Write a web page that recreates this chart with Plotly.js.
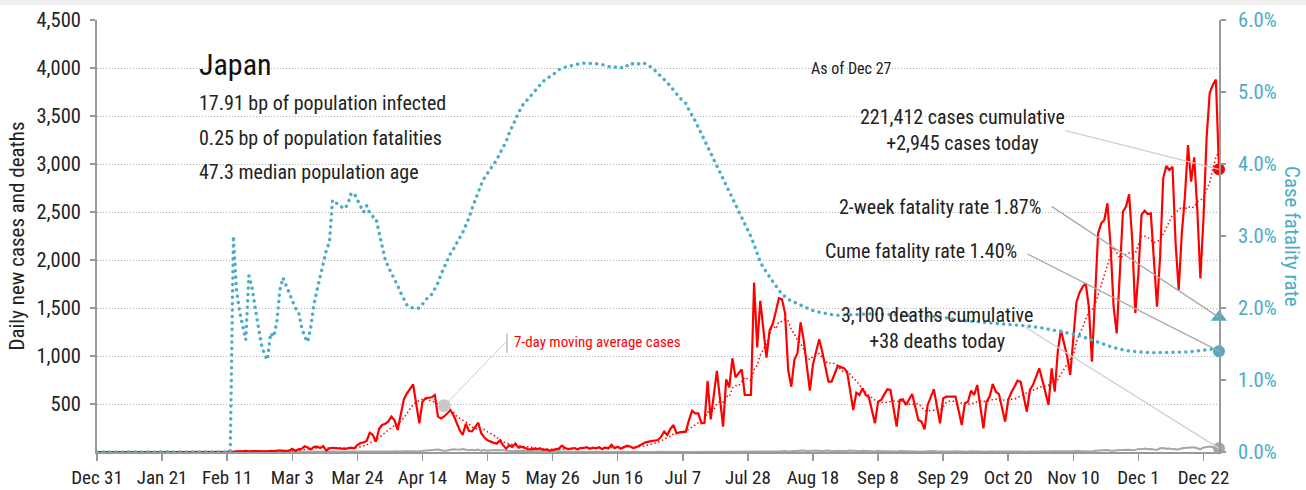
<!DOCTYPE html>
<html>
<head>
<meta charset="utf-8">
<script src="https://cdn.plot.ly/plotly-3.0.1.min.js"></script>
<style>
  html, body { margin: 0; padding: 0; background: #f0f0f0; }
  #chart { position: absolute; left: 0; top: 5px; width: 1306px; height: 485px; background: #fff; }
</style>
</head>
<body>
<div id="chart"></div>
<script>
// ---------------- DATA ----------------
const startDate = '2019-12-31';            // first day of the series (day 0)

// Daily new cases, one value per day from Dec 31, 2019 to Dec 27, 2020
const dailyCases = [
  0,0,0,0,0,0,0,0,0,0,0,0,0,0,0,0,
  1,0,0,0,0,0,1,0,0,1,0,1,1,4,1,2,
  0,0,2,0,0,1,0,0,0,3,0,0,1,8,5,6,12,4,9,10,7,12,8,6,13,9,16,18,12,
  15,14,33,12,27,33,59,47,26,54,55,41,62,15,39,44,41,42,36,33,43,45,39,
  73,94,100,115,201,177,107,240,
  281,295,318,368,330,229,399,549,611,653,705,500,299,524,559,565,570,594,368,350,370,400,437,385,300,229,177,295,219,215,
  260,305,193,150,122,106,95,88,122,71,35,71,52,88,45,55,40,30,28,35,30,
  38,21,26,14,21,33,35,66,42,31,35,41,28,41,42,50,33,45,38,50,29,48,36,76,40,55,33,52,66,58,40,50,
  66,85,101,108,115,118,125,160,212,177,240,281,194,
  205,212,212,333,430,403,403,299,305,740,340,590,844,554,264,757,674,976,778,820,861,594,594,594,
  1764,1090,1576,1280,983,1264,1333,1460,1601,1590,1445,854,680,960,1028,1351,1167,903,639,913,1040,1174,1045,890,
  733,733,815,896,884,872,837,640,437,618,594,663,594,576,440,299,524,
  542,600,653,646,455,264,542,549,490,550,604,470,333,316,236,490,570,653,476,299,559,576,576,576,576,430,281,
  507,524,639,594,698,472,247,524,576,708,628,604,460,316,542,622,680,743,732,570,420,646,700,785,872,750,620,490,872,628,
  1050,1271,1132,1000,802,1201,1560,1660,1720,1757,1514,941,1583,2278,2382,2417,2591,2156,1514,1236,1861,2503,2556,2684,
  2208,1445,1861,2469,2514,2479,2486,2000,1514,2035,2851,2979,2938,2972,2174,1688,2278,2660,3198,2816,3070,2521,1809,
  2437,3271,3740,3823,3881,2945
];

// Daily new deaths, same days
const dailyDeaths = [
  0,0,0,0,0,0,0,0,0,0,0,0,0,0,0,0,0,0,0,0,0,0,0,0,0,0,0,0,0,0,0,0,0,0,0,0,0,0,0,0,0,0,0,0,
  1,0,0,0,0,0,0,1,0,0,0,0,1,0,1,0,1,
  1,0,1,0,0,1,0,1,1,2,1,1,0,2,1,1,1,2,0,1,2,1,2,0,1,2,3,2,4,5,3,
  3,5,2,4,8,3,5,7,9,10,7,6,9,13,11,15,14,17,26,18,12,16,22,29,25,23,31,28,19,24,
  18,26,13,20,14,17,21,19,22,17,13,10,9,14,12,15,8,11,9,10,6,14,7,9,5,12,8,9,4,6,3,
  3,2,4,1,2,1,3,2,1,0,1,2,1,0,1,3,1,1,0,2,0,1,0,1,2,1,0,1,2,1,
  0,1,0,2,1,1,0,1,0,1,1,2,1,0,1,0,2,1,0,0,1,0,2,0,3,2,1,3,2,4,3,
  5,2,6,4,3,6,5,8,10,4,6,7,13,12,16,10,9,14,15,11,8,14,16,9,13,14,10,8,11,15,12,
  10,9,12,8,11,7,5,13,10,8,6,9,7,4,11,9,7,5,10,8,5,3,6,9,7,10,5,4,8,6,
  7,5,9,6,4,5,3,8,6,4,7,5,3,6,9,4,5,7,2,6,5,4,8,6,3,7,4,5,9,6,8,
  5,4,7,6,5,8,6,4,9,8,11,10,13,12,9,6,14,15,18,17,20,13,12,19,22,25,21,24,18,20,
  32,29,35,28,31,30,22,38,41,33,36,30,29,27,40,45,43,48,49,42,28,47,51,56,49,44,38
];

// Case fatality rate (%), read at these day offsets from startDate
const cfrDay = [0,43,44,45,46,47,48,49,50,51,52,53,54,55,56,57,58,59,60,61,62,63,64,65,66,67,68,69,70,71,72,73,74,75,76,77,78,79,80,81,82,83,84,85,86,87,88,89,90,91,92,93,94,95,96,97,98,99,100,101,102,103,104,105,106,107,108,109,110,111,112,113,114,115,116,117,118,119,120,121,122,123,124,125,126,127,128,129,130,131,132,133,134,135,136,137,138,139,140,141,142,143,144,145,146,147,148,149,150,151,152,154,156,158,160,162,164,166,168,170,172,174,176,178,180,181,182,183,184,185,186,187,188,189,190,191,192,193,194,195,196,197,198,199,200,201,202,203,204,205,206,207,208,209,210,211,212,213,214,215,216,217,218,219,220,221,222,223,224,225,226,227,228,229,230,232,234,236,238,240,245,250,255,260,265,272,278,284,289,297,300,304,308,312,316,320,324,328,332,336,341,347,352,356,360,362];
const cfrPct = [0,0,3.00,2.25,1.95,1.74,1.56,2.45,2.29,2.01,1.75,1.50,1.36,1.28,1.65,1.60,1.80,2.25,2.42,2.32,2.21,2.10,2.00,1.95,1.74,1.60,1.53,1.74,2.05,2.25,2.45,2.60,2.80,2.92,3.50,3.46,3.44,3.40,3.38,3.45,3.59,3.59,3.50,3.43,3.33,3.42,3.32,3.27,3.25,3.05,2.85,2.67,2.57,2.49,2.40,2.31,2.21,2.12,2.04,2.01,2.00,1.99,2.00,2.06,2.12,2.16,2.19,2.26,2.35,2.47,2.57,2.67,2.75,2.82,2.89,2.97,3.05,3.15,3.25,3.38,3.50,3.62,3.72,3.81,3.87,3.93,3.99,4.06,4.15,4.22,4.31,4.43,4.52,4.62,4.72,4.80,4.85,4.90,4.95,5.01,5.06,5.10,5.15,5.18,5.21,5.23,5.27,5.31,5.33,5.35,5.36,5.37,5.40,5.40,5.40,5.39,5.37,5.34,5.35,5.33,5.40,5.38,5.41,5.37,5.30,5.26,5.22,5.18,5.13,5.08,5.02,4.97,4.92,4.88,4.84,4.75,4.68,4.60,4.51,4.42,4.34,4.25,4.17,4.08,3.98,3.90,3.81,3.71,3.62,3.53,3.45,3.36,3.26,3.17,3.08,2.99,2.88,2.76,2.64,2.56,2.49,2.43,2.37,2.31,2.24,2.19,2.16,2.12,2.10,2.08,2.06,2.03,2.01,1.99,1.98,1.95,1.93,1.92,1.90,1.90,1.91,1.92,1.91,1.90,1.89,1.88,1.83,1.81,1.79,1.76,1.75,1.73,1.70,1.67,1.63,1.57,1.51,1.45,1.41,1.39,1.38,1.38,1.39,1.41,1.43,1.41];

const twoWeekRate = 1.87;     // %
const cumeRate = 1.40;        // %
const maLabelDay = 112;       // day whose moving average carries the label dot

const yTicks = [500,1000,1500,2000,2500,3000,3500,4000,4500];
const y2Ticks = [0,1,2,3,4,5,6];
const y2TickText = ['0.0%','1.0%','2.0%','3.0%','4.0%','5.0%','6.0%'];

// ---------------- BUILD ----------------
const DAY = 86400000;
const t0 = Date.parse(startDate + 'T00:00:00Z');
const dayToDate = d => new Date(t0 + d * DAY).toISOString().slice(0, 10);
const dates = dailyCases.map((_, i) => dayToDate(i));
const lastDay = dailyCases.length - 1;
const lastDate = dates[lastDay];

// 7-day trailing moving average of cases
const maCases = dailyCases.map((v, i) => {
  if (i < 6) return null;
  let s = 0; for (let k = i - 6; k <= i; k++) s += dailyCases[k];
  return s / 7;
});

const TEAL = '#4bacc6';
const RED = '#ff0000';
const FONT = "'Liberation Sans Narrow', 'Arial Narrow', 'Roboto Condensed', 'DejaVu Sans Condensed', sans-serif";
const TXT = '#222222';

const traces = [
  { x: cfrDay.map(dayToDate), y: cfrPct, yaxis: 'y2', type: 'scatter', mode: 'lines',
    line: { color: TEAL, width: 3.4, dash: '3px,3.6px' }, hoverinfo: 'skip' },
  { x: dates, y: dailyDeaths, type: 'scatter', mode: 'lines',
    line: { color: '#a6a6a6', width: 2 }, hoverinfo: 'skip' },
  { x: dates, y: maCases, type: 'scatter', mode: 'lines',
    line: { color: RED, width: 1.5, dash: '1.5px,2.5px' }, hoverinfo: 'skip' },
  { x: dates, y: dailyCases, type: 'scatter', mode: 'lines',
    line: { color: RED, width: 2.2 }, hoverinfo: 'skip' },
  // label dot on the moving average
  { x: [dates[maLabelDay]], y: [maCases[maLabelDay]], type: 'scatter', mode: 'markers',
    marker: { color: '#c8c8c8', size: 13 }, cliponaxis: false },
  // today markers
  { x: [lastDate], y: [dailyDeaths[lastDay]], type: 'scatter', mode: 'markers',
    marker: { color: '#a6a6a6', size: 12 }, cliponaxis: false },
  { x: [lastDate], y: [dailyCases[lastDay]], type: 'scatter', mode: 'markers',
    marker: { color: RED, size: 12 }, cliponaxis: false },
  { x: [lastDate], y: [twoWeekRate], yaxis: 'y2', type: 'scatter', mode: 'markers',
    marker: { color: TEAL, size: 14, symbol: 'triangle-up' }, cliponaxis: false },
  { x: [lastDate], y: [cumeRate], yaxis: 'y2', type: 'scatter', mode: 'markers',
    marker: { color: TEAL, size: 12 }, cliponaxis: false }
];

const PW = 1122, PH = 432, PL = 97, PB = 452;   // plot-area geometry (px)
const px = x => (x - PL) / PW;
const py = y => (PB - y) / PH;

function txt(text, x, y, opts) {
  return Object.assign({ xref: 'paper', yref: 'paper', x: px(x), y: py(y), text: text,
    showarrow: false, xanchor: 'left', yanchor: 'middle',
    font: { family: FONT, size: 20, color: TXT } }, opts || {});
}
function pointer(x, y, yref, ax, ay, color, width) {
  return { x: x, y: y, xref: 'x', yref: yref, text: '', showarrow: true, arrowhead: 0,
    ax: ax, ay: ay, axref: 'pixel', ayref: 'pixel', arrowcolor: color, arrowwidth: width || 1.3,
    standoff: 0, startstandoff: 0 };
}

const annotations = [
  txt('Japan', 197, 64, { font: { family: FONT, size: 30, color: '#111' } }),
  txt('17.91 bp of population infected', 197, 103),
  txt('0.25 bp of population fatalities', 197, 138),
  txt('47.3 median population age', 197, 172),
  txt('As of Dec 27', 851, 68, { xanchor: 'center', font: { family: FONT, size: 16, color: TXT } }),
  txt('221,412 cases cumulative<br>+2,945 cases today', 962, 130, { xanchor: 'center' }),
  txt('2-week fatality rate 1.87%', 1043, 207, { xanchor: 'right' }),
  txt('Cume fatality rate 1.40%', 1019, 251, { xanchor: 'right' }),
  txt('3,100 deaths cumulative<br>+38 deaths today', 937, 328, { xanchor: 'center' }),
  txt('7-day moving average cases', 512, 342, { font: { family: FONT, size: 15, color: RED } }),
  txt('Case fatality rate', 1292, 237, { xanchor: 'center', textangle: 90,
    font: { family: FONT, size: 21, color: TEAL } }),
  pointer(lastDate, dailyCases[lastDay], 'y', -155, -39, '#cfcfcf'),
  pointer(lastDate, twoWeekRate, 'y2', -169, -112, '#a9a9a9'),
  pointer(lastDate, cumeRate, 'y2', -193, -98, '#a9a9a9'),
  pointer(lastDate, dailyDeaths[lastDay], 'y', -195, -122, '#cfcfcf'),
  pointer(dates[maLabelDay], maCases[maLabelDay], 'y', 64, -66, '#cfcfcf', 1),
  { xref: 'paper', yref: 'paper', x: px(507), y: py(353), text: '', showarrow: true, arrowhead: 0,
    ax: 0, ay: -21, arrowcolor: '#d0d0d0', arrowwidth: 2, standoff: 0 }
];

const layout = {
  width: 1306, height: 485,
  margin: { l: 97, r: 87, t: 15, b: 38 },
  paper_bgcolor: '#ffffff', plot_bgcolor: '#ffffff',
  showlegend: false,
  font: { family: FONT, size: 19, color: TXT },
  xaxis: {
    type: 'date', range: [startDate, lastDate],
    tick0: startDate, dtick: 21 * DAY, tickformat: '%b %-d',
    ticks: 'outside', ticklen: 7, tickwidth: 1.5, tickcolor: '#999',
    showline: true, linecolor: '#999', linewidth: 2,
    showgrid: false, zeroline: false,
    tickfont: { family: FONT, size: 19, color: TXT }
  },
  yaxis: {
    range: [0, 4500], tickvals: yTicks, tickformat: ',d',
    ticks: 'outside', ticklen: 5, tickwidth: 1.5, tickcolor: '#999',
    ticklabelstandoff: 5,
    showline: true, linecolor: '#999', linewidth: 2,
    showgrid: true, gridcolor: '#b0b0b0', griddash: '1px,2px', gridwidth: 1,
    zeroline: false,
    tickfont: { family: FONT, size: 20.5, color: TXT },
    title: { text: 'Daily new cases and deaths', standoff: 6,
      font: { family: FONT, size: 21, color: TXT } }
  },
  yaxis2: {
    overlaying: 'y', side: 'right', range: [0, 6], tickvals: y2Ticks, ticktext: y2TickText,
    ticks: 'outside', ticklen: 5, tickwidth: 1.5, tickcolor: '#999',
    ticklabelstandoff: 8,
    showline: true, linecolor: '#999', linewidth: 2,
    showgrid: false, zeroline: false,
    tickfont: { family: FONT, size: 20.5, color: TEAL }
  },
  annotations: annotations
};

Plotly.newPlot('chart', traces, layout, { staticPlot: true, displayModeBar: false }).then(gd => {
  // render the fatality-rate line (the only line on the y2 subplot) as round dots
  const paths = gd.querySelectorAll('g.xy2 .scatterlayer path.js-line');
  paths.forEach(p => {
    if ((p.style.stroke || '').indexOf('75, 172, 198') >= 0 || p.getAttribute('style').indexOf('rgb(75, 172, 198)') >= 0) {
      p.style.strokeLinecap = 'round';
      p.style.strokeDasharray = '0.1px,6.3px';
    }
  });
});
</script>
</body>
</html>
